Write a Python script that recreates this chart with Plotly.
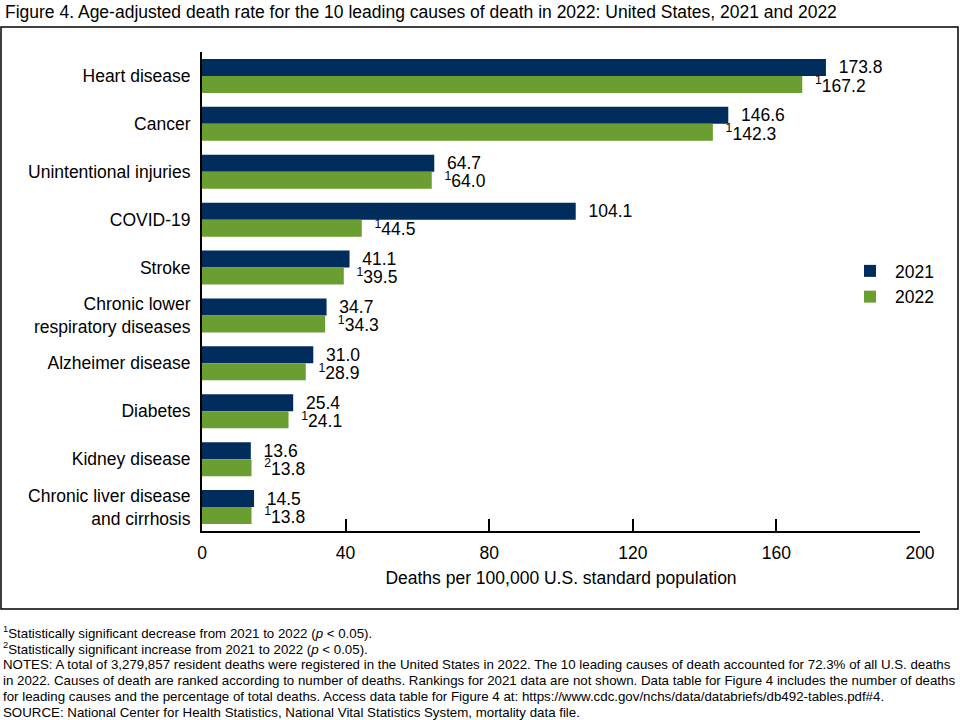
import plotly.graph_objects as go

# causes of death, in ranked order (top to bottom)
causes = [
    "Heart disease",
    "Cancer",
    "Unintentional injuries",
    "COVID-19",
    "Stroke",
    "Chronic lower<br>respiratory diseases",
    "Alzheimer disease",
    "Diabetes",
    "Kidney disease",
    "Chronic liver disease<br>and cirrhosis",
]
rate_2021 = [173.8, 146.6, 64.7, 104.1, 41.1, 34.7, 31.0, 25.4, 13.6, 14.5]
rate_2022 = [167.2, 142.3, 64.0, 44.5, 39.5, 34.3, 28.9, 24.1, 13.8, 13.8]
# footnote marks on the 2022 values (1 = decrease, 2 = increase)
marks_2022 = ["1", "1", "1", "1", "1", "1", "1", "1", "2", "1"]
x_ticks = [0, 40, 80, 120, 160, 200]

W, H = 960, 720
L, R, T, B = 202, 40, 52, 189
NAVY = "#002d5c"
GREEN = "#6b9e31"
FONT = "Liberation Sans, Arial, sans-serif"
FS = 17.5
PAD = "\u00a0\u00a0"  # small gap between bar end and its value


def px_x(p):
    # pixel -> paper x
    return (p - L) / (W - L - R)


def px_y(p):
    # pixel -> paper y
    return 1 - (p - T) / (H - T - B)


fig = go.Figure()
fig.add_bar(
    y=causes, x=rate_2021, orientation="h", name="2021",
    marker=dict(color=NAVY, line=dict(width=0)),
    text=[f"{PAD}{v:.1f}" for v in rate_2021],
    textposition="outside", cliponaxis=False, constraintext="none",
    textfont=dict(size=FS, color="black"),
)
fig.add_bar(
    y=causes, x=rate_2022, orientation="h", name="2022",
    marker=dict(color=GREEN, line=dict(width=0)),
    text=[f"{PAD}<sup>{m}</sup>{v:.1f}" for m, v in zip(marks_2022, rate_2022)],
    textposition="outside", cliponaxis=False, constraintext="none",
    textfont=dict(size=FS, color="black"),
)

fig.update_layout(
    width=W, height=H,
    margin=dict(l=L, r=R, t=T, b=B),
    barmode="group", bargap=0.29, bargroupgap=0,
    plot_bgcolor="white", paper_bgcolor="white",
    font=dict(family=FONT, size=FS, color="black"),
    showlegend=True,
    legend=dict(x=px_x(845), y=px_y(253), xanchor="left", yanchor="top",
                font=dict(size=FS), bgcolor="rgba(0,0,0,0)",
                itemwidth=40),
)
fig.update_xaxes(
    range=[0, 200], tickvals=x_ticks, showgrid=False, zeroline=False,
    showline=True, linecolor="black", linewidth=2,
    ticks="inside", ticklen=12, tickwidth=2, tickcolor="black",
    tickfont=dict(size=FS), ticklabelstandoff=5,
    title=dict(text="Deaths per 100,000 U.S. standard population",
               font=dict(size=FS), standoff=10),
)
fig.update_yaxes(
    autorange="reversed", showgrid=False, showline=True,
    linecolor="black", linewidth=2, ticks="", ticklabelstandoff=6,
    tickfont=dict(size=FS),
)

# frame round the chart
fig.add_shape(type="rect", xref="paper", yref="paper",
              x0=px_x(1), x1=px_x(958), y0=px_y(27), y1=px_y(609),
              line=dict(color="black", width=1.5), layer="below")

fig.add_annotation(
    text="Figure 4. Age-adjusted death rate for the 10 leading causes of death in 2022: United States, 2021 and 2022",
    xref="paper", yref="paper", x=px_x(3), y=px_y(0), xanchor="left", yanchor="top",
    showarrow=False, font=dict(size=FS),
)

notes = [
    "<sup>1</sup>Statistically significant decrease from 2021 to 2022 (<i>p</i> < 0.05).",
    "<sup>2</sup>Statistically significant increase from 2021 to 2022 (<i>p</i> < 0.05).",
    "NOTES: A total of 3,279,857 resident deaths were registered in the United States in 2022. The 10 leading causes of death accounted for 72.3% of all U.S. deaths",
    "in 2022. Causes of death are ranked according to number of deaths. Rankings for 2021 data are not shown. Data table for Figure 4 includes the number of deaths",
    "for leading causes and the percentage of total deaths. Access data table for Figure 4 at: https://www.cdc.gov/nchs/data/databriefs/db492-tables.pdf#4.",
    "SOURCE: National Center for Health Statistics, National Vital Statistics System, mortality data file.",
]
for i, line in enumerate(notes):
    fig.add_annotation(
        text=line, xref="paper", yref="paper", x=px_x(1), y=px_y(632 + 16 * i),
        xanchor="left", yanchor="middle", align="left", showarrow=False,
        font=dict(size=13.3),
    )

fig.write_html("out.html", config={"displayModeBar": False},
               post_script="document.body.style.margin='0';")
